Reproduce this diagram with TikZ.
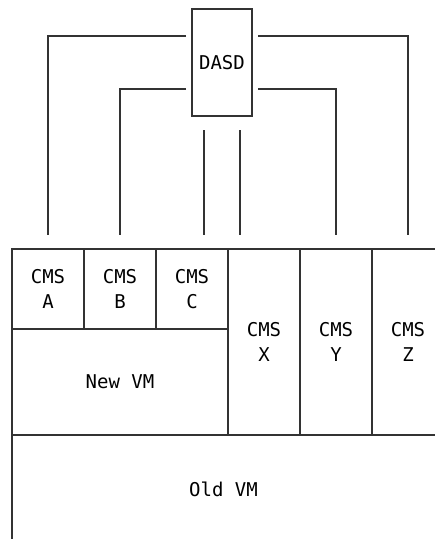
\documentclass[tikz,border=0pt]{standalone}
\usepackage{fontspec}
\newfontfamily\cellfont{DejaVu Sans Mono}
\tikzset{
  cell/.style={draw=black!80, line width=1.2pt, rectangle, inner sep=0pt,
    outer sep=0pt, align=center, font=\cellfont\fontsize{19}{25}\selectfont},
  link/.style={draw=black!80, line width=1.2pt, shorten <=6pt, shorten >=14pt},
}
\begin{document}
\begin{tikzpicture}[x=1pt, y=-1pt]
  \useasboundingbox (0,0) rectangle (435,539);
  \clip (0,0) rectangle (435,539);

  %% --- DASD ---
  \node[cell, minimum width=60pt, minimum height=107pt] (dasd) at (222,62.5) {DASD};

  %% --- 下段：Old VM / New VM と CMS ---
  \node[cell, minimum width=432pt, minimum height=114pt, anchor=north west]
    (oldvm) at (12,435) {};
  \node[font=\cellfont\fontsize{19}{25}\selectfont] (oldvmtext) at (223.5,489) {Old VM};
  \node[cell, minimum width=216pt, minimum height=106pt] (newvm) at (120,382) {New VM};

  \node[cell, minimum width=72pt, minimum height=80pt] (cmsA) at (48,289) {CMS\\A};
  \node[cell, minimum width=72pt, minimum height=80pt] (cmsB) at (120,289) {CMS\\B};
  \node[cell, minimum width=72pt, minimum height=80pt] (cmsC) at (192,289) {CMS\\C};
  \node[cell, minimum width=72pt, minimum height=186pt] (cmsX) at (264,342) {CMS\\X};
  \node[cell, minimum width=72pt, minimum height=186pt] (cmsY) at (336,342) {CMS\\Y};
  \node[cell, minimum width=72pt, minimum height=186pt] (cmsZ) at (408,342) {CMS\\Z};

  %% --- DASD からの接続線 ---
  \draw[link] ([yshift=26.5pt]dasd.west) -| (cmsA.north);
  \draw[link] ([yshift=-26.5pt]dasd.west) -| (cmsB.north);
  \draw[link] ([yshift=-26.5pt]dasd.east) -| (cmsY.north);
  \draw[link] ([yshift=26.5pt]dasd.east) -| (cmsZ.north);

  %% 真下の 2 本（C と X へ）
  \coordinate (downC) at ([xshift=-18pt]dasd.south);
  \coordinate (downX) at ([xshift=18pt]dasd.south);
  \draw[link, shorten <=14pt] (downC) -- (downC |- cmsC.north);
  \draw[link, shorten <=14pt] (downX) -- (downX |- cmsX.north);
\end{tikzpicture}
\end{document}
